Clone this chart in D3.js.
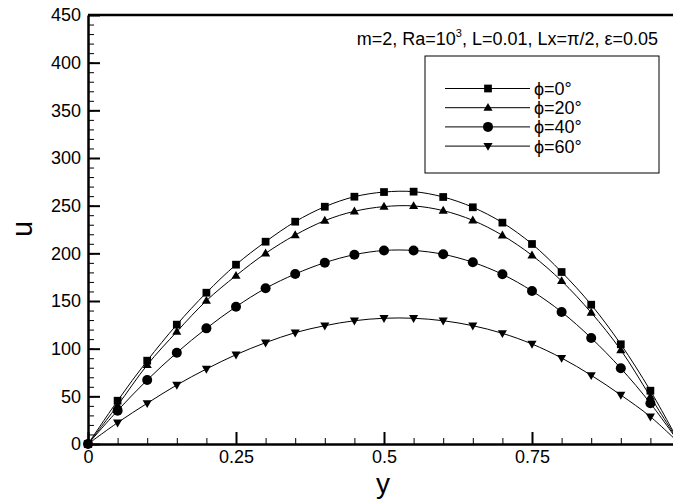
<!DOCTYPE html>
<html>
<head>
<meta charset="utf-8">
<script src="https://cdn.jsdelivr.net/npm/d3@7"></script>
<style>
  body { margin: 0; background: #fff; }
  svg { display: block; font-family: Arial, "Liberation Sans", sans-serif; }
</style>
</head>
<body>
<script>
var w = 673;
var h = 500;

// y positions of the samples
var ys = [0, 0.05, 0.1, 0.15, 0.2, 0.25, 0.3, 0.35, 0.4, 0.45, 0.5,
          0.55, 0.6, 0.65, 0.7, 0.75, 0.8, 0.85, 0.9, 0.95, 1];

var u0  = [0, 45.4, 87.4, 125.2, 158.7, 188.1, 212.2, 233.2, 248.9, 259.4, 264.3,
           264.7, 259.1, 248.3, 232.2, 209.8, 180.4, 146.1, 104.6, 55.9, 0];
var u20 = [0, 40.5, 82.9, 117.8, 150.3, 176.6, 200.0, 219.2, 234.3, 244.1, 249.0,
           249.7, 244.8, 234.6, 218.9, 197.9, 171.0, 137.8, 98.6, 49.6, 0];
var u40 = [0, 35.0, 67.1, 95.8, 121.3, 144.0, 163.3, 178.3, 190.2, 198.6, 203.0,
           203.0, 199.0, 190.6, 178.0, 160.5, 138.5, 111.2, 79.4, 42.7, 0];
var u60 = [0, 22.4, 42.7, 61.9, 78.7, 93.7, 106.3, 116.8, 124.1, 129.3, 131.9,
           131.9, 129.3, 124.1, 116.1, 104.9, 90.2, 72.1, 51.4, 28.6, 0];

var seriesNames = ["\u03d5=0\u00b0", "\u03d5=20\u00b0", "\u03d5=40\u00b0", "\u03d5=60\u00b0"];
var seriesMarks = ["square", "triangle", "circle", "triangleDown"];
var seriesVals = [u0, u20, u40, u60];

var xTicks = [0, 0.25, 0.5, 0.75];
var xTickLabels = ["0", "0.25", "0.5", "0.75"];
var yTicks = [0, 50, 100, 150, 200, 250, 300, 350, 400, 450];

var x = d3.scaleLinear().domain([0, 1]).range([88, 680]);
var y = d3.scaleLinear().domain([0, 450]).range([444, 15]);

var svg = d3.select("body").append("svg")
            .attr("width", w)
            .attr("height", h);

// draws one marker of the given kind at (cx, cy)
function drawMark(g, kind, cx, cy) {
  if (kind == "circle") {
    g.append("circle").attr("cx", cx).attr("cy", cy).attr("r", 5).attr("fill", "#000");
  } else if (kind == "square") {
    g.append("path").attr("d", d3.symbol(d3.symbolSquare, 60)())
      .attr("transform", "translate(" + cx + "," + cy + ")").attr("fill", "#000");
  } else if (kind == "triangle") {
    g.append("path").attr("d", d3.symbol(d3.symbolTriangle, 36)())
      .attr("transform", "translate(" + cx + "," + (cy + 0.5) + ")").attr("fill", "#000");
  } else {
    g.append("path").attr("d", d3.symbol(d3.symbolTriangle, 36)())
      .attr("transform", "translate(" + cx + "," + (cy - 0.5) + ") rotate(180)").attr("fill", "#000");
  }
}

// curves
var line = d3.line()
             .x(function(d) { return x(d[0]); })
             .y(function(d) { return y(d[1]); })
             .curve(d3.curveCatmullRom);

var curves = svg.append("g");
seriesVals.forEach(function(vals) {
  curves.append("path")
        .datum(ys.map(function(v, i) { return [v, vals[i]]; }))
        .attr("d", line)
        .attr("fill", "none")
        .attr("stroke", "#000")
        .attr("stroke-width", 1);
});

var marks = svg.append("g");
seriesVals.forEach(function(vals, s) {
  ys.forEach(function(v, i) {
    drawMark(marks, seriesMarks[s], x(v), y(vals[i]));
  });
});

// axes: minor ticks first, then majors
svg.append("g")
   .attr("transform", "translate(0,444)")
   .call(d3.axisBottom(x).tickValues(d3.range(0, 1.001, 0.05)).tickSize(-6).tickFormat(""))
   .call(function(g) { g.select(".domain").remove(); g.selectAll("line").attr("stroke-width", 1); });

svg.append("g")
   .attr("transform", "translate(88,0)")
   .call(d3.axisLeft(y).tickValues(d3.range(0, 451, 10)).tickSize(-6).tickFormat(""))
   .call(function(g) { g.select(".domain").remove(); g.selectAll("line").attr("stroke-width", 1); });

var xAxis = svg.append("g")
   .attr("transform", "translate(0,444)")
   .call(d3.axisBottom(x).tickValues(xTicks)
           .tickFormat(function(d, i) { return xTickLabels[i]; })
           .tickSize(-12).tickSizeOuter(0).tickPadding(6));
xAxis.selectAll("text").attr("font-size", 18).attr("font-family", null).attr("fill", "#000");
xAxis.selectAll("line").attr("stroke-width", 2);
xAxis.select(".domain").attr("stroke-width", 2.5);

var yAxis = svg.append("g")
   .attr("transform", "translate(88,0)")
   .call(d3.axisLeft(y).tickValues(yTicks).tickSize(-12).tickSizeOuter(0).tickPadding(7));
yAxis.selectAll("text").attr("font-size", 18).attr("font-family", null).attr("fill", "#000");
yAxis.selectAll("line").attr("stroke-width", 2);
yAxis.select(".domain").attr("stroke-width", 2.5);

// top frame line
svg.append("line")
   .attr("x1", 88).attr("x2", 680).attr("y1", y(450)).attr("y2", y(450))
   .attr("stroke", "#000").attr("stroke-width", 2.5);

// axis titles
svg.append("text")
   .attr("x", 383).attr("y", 493)
   .attr("text-anchor", "middle")
   .attr("font-size", 28)
   .text("y");

svg.append("text")
   .attr("transform", "translate(32,229) rotate(-90)")
   .attr("text-anchor", "middle")
   .attr("font-size", 29)
   .text("u");

// annotation
var note = svg.append("text")
   .attr("x", 658).attr("y", 45)
   .attr("text-anchor", "end")
   .attr("font-size", 18);
note.append("tspan").text("m=2, Ra=10");
note.append("tspan").attr("font-size", 11).attr("dy", -8).text("3");
note.append("tspan").attr("dy", 8).text(", L=0.01, Lx=\u03c0/2, \u03b5=0.05");

// legend
var legend = svg.append("g");
legend.append("rect")
      .attr("x", 425).attr("y", 56)
      .attr("width", 234).attr("height", 117)
      .attr("fill", "#fff").attr("stroke", "#000").attr("stroke-width", 1);

seriesNames.forEach(function(name, i) {
  var ry = 88.5 + i * 19.2;
  legend.append("line")
        .attr("x1", 445).attr("x2", 530).attr("y1", ry).attr("y2", ry)
        .attr("stroke", "#000").attr("stroke-width", 1);
  drawMark(legend, seriesMarks[i], 488, ry);
  legend.append("text")
        .attr("x", 534).attr("y", ry + 6.5)
        .attr("font-size", 18)
        .text(name);
});
</script>
</body>
</html>
